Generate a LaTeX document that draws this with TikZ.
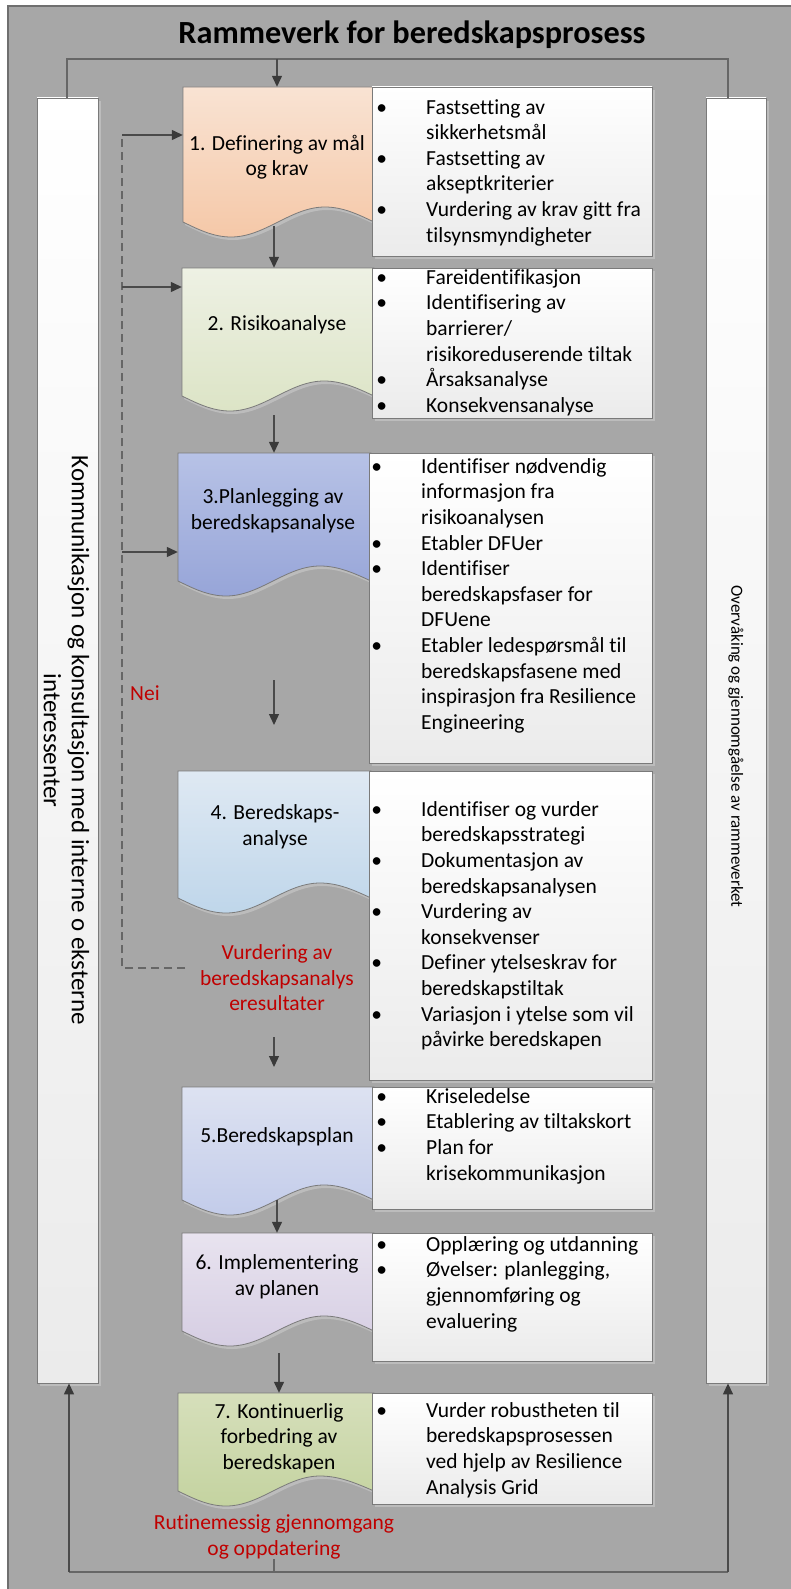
\documentclass[tikz,border=0pt]{standalone}
\usepackage{fontspec}
\setmainfont{Carlito}[Ligatures={NoCommon}]
\usetikzlibrary{arrows.meta,fit,shadows}
\definecolor{bg}{HTML}{A7A7A7}
\definecolor{framec}{HTML}{6F6F6F}
\definecolor{bordc}{HTML}{7A7A7A}
\definecolor{shadowc}{HTML}{BCBCBC}
\definecolor{linec}{HTML}{666666}
\definecolor{arrc}{HTML}{4A4A4A}
\definecolor{tipc}{HTML}{3A3A3A}
\definecolor{redc}{HTML}{C00000}
\definecolor{wbot}{HTML}{EBEBEB}
\definecolor{cat}{HTML}{F9E3D3}\definecolor{cab}{HTML}{F5C8A8}
\definecolor{cbt}{HTML}{EEF1E4}\definecolor{cbb}{HTML}{DCE4C6}
\definecolor{cct}{HTML}{B7C2E6}\definecolor{ccb}{HTML}{97A5D8}
\definecolor{cdt}{HTML}{DFE9F3}\definecolor{cdb}{HTML}{BFD6EA}
\definecolor{cet}{HTML}{DDE2F1}\definecolor{ceb}{HTML}{C3CCEA}
\definecolor{cft}{HTML}{E8E3EF}\definecolor{cfb}{HTML}{D6CEE3}
\definecolor{cgt}{HTML}{D6DFBB}\definecolor{cgb}{HTML}{C4D3A0}
\newcommand\bl{\makebox[0pt][r]{\textbullet\hspace{39pt}}}
% #1 L, #2 top, #3 wave centre, #4 right, #5 name, #6 top colour, #7 bottom colour
\newcommand\docshape[7]{%
  \fill[shadowc, shift={(2,3)}] (#1,#2) -- (#1,#3) sin ({#1+48},{#3+15}) cos ({#1+95},#3)
     sin ({#1+142},{#3-15}) cos (#4,#3) -- (#4,#2) -- cycle;
  \path[draw=bordc, line width=0.8pt, top color=#6, bottom color=#7] (#1,#2) -- (#1,#3)
     sin ({#1+48},{#3+15}) cos ({#1+95},#3) sin ({#1+142},{#3-15}) cos (#4,#3) -- (#4,#2) -- cycle;
  \node[fit={(#1,#2) (#4,#3)}, inner sep=0pt] (#5) {};
}
\begin{document}
\begin{tikzpicture}[x=1pt,y=-1pt,
  wbox/.style={draw=bordc, line width=0.8pt, top color=white, bottom color=wbot, inner sep=0pt,
     drop shadow={shadow xshift=3pt, shadow yshift=-3pt, fill=shadowc, opacity=1}},
  ctext/.style={font=\fontsize{21.5}{25.5}\selectfont, align=center, inner sep=0pt},
  rtext/.style={font=\fontsize{21.5}{25.5}\selectfont, align=center, inner sep=0pt, text=redc},
  ltext/.style={font=\fontsize{21.5}{25.6}\selectfont, align=left, inner sep=0pt, anchor=north west},
  fline/.style={draw=linec, line width=1.5pt},
  arr/.style={draw=arrc, line width=1.3pt, -{Triangle[length=11pt,width=10pt,color=tipc]}},
  dline/.style={draw=linec, line width=1.3pt, dash pattern=on 8pt off 5pt}]
\useasboundingbox (0,0) rectangle (791,1589);
% frame
\fill[white] (0,0) rectangle (791,1589);
\fill[bg] (8,6) rectangle (791,1589);
\draw[framec, line width=1.2pt] (8,1589) -- (8,6) -- (791,6);
\node[font=\fontsize{32.3}{38}\selectfont\bfseries, anchor=base, inner sep=0pt] (title) at (412,44) {Rammeverk for beredskapsprosess};
% side boxes
\node[wbox, fit={(37,98) (98,1383)}] (L) {};
\node[wbox, fit={(706,98) (766,1383)}] (R) {};
\node[font=\fontsize{25}{28}\selectfont, align=center, inner sep=0pt, rotate=-90] (lt) at ([xshift=-1pt]L.center) {Kommunikasjon og konsultasjon med interne o eksterne\\interessenter};
\node[font=\fontsize{17}{20}\selectfont, align=center, inner sep=0pt, rotate=-90] (rt) at ([yshift=-6pt]R.center) {Overvåking og gjennomgåelse av rammeverket};
% colored document shapes
\docshape{183}{87}{222}{374}{c1}{cat}{cab}
\docshape{182}{268}{396}{374}{c2}{cbt}{cbb}
\docshape{178}{453}{581}{371}{c3}{cct}{ccb}
\docshape{178}{771}{898}{371}{c4}{cdt}{cdb}
\docshape{182}{1087}{1200}{374}{c5}{cet}{ceb}
\docshape{182}{1233}{1331}{374}{c6}{cft}{cfb}
\docshape{178}{1393}{1491}{374}{c7}{cgt}{cgb}
% white boxes
\node[wbox, fit={(372,87) (652,256)}] (w1) {};
\node[wbox, fit={(372,268) (652,418)}] (w2) {};
\node[wbox, fit={(369,453) (652,763)}] (w3) {};
\node[wbox, fit={(369,771) (652,1080)}] (w4) {};
\node[wbox, fit={(372,1087) (652,1209)}] (w5) {};
\node[wbox, fit={(372,1233) (652,1361)}] (w6) {};
\node[wbox, fit={(372,1393) (652,1504)}] (w7) {};
% box titles
\node[ctext] (t1) at (277,157) {1. Definering av mål\\og krav};
\node[ctext] (t2) at (277,325) {2. Risikoanalyse};
\node[ctext] (t3) at (273,511) {3.Planlegging av\\beredskapsanalyse};
\node[ctext] (t4) at (275,827) {4. Beredskaps-\\analyse};
\node[ctext] (t5) at (277,1137) {5.Beredskapsplan};
\node[ctext] (t6) at (277,1277) {6. Implementering\\av planen};
\node[ctext] (t7) at (279,1438) {7. Kontinuerlig\\forbedring av\\beredskapen};
% lists
\node[ltext] (l1) at (426,97) {\rule{0pt}{17pt}\bl Fastsetting av\\sikkerhetsmål\\\bl Fastsetting av\\akseptkriterier\\\bl Vurdering av krav gitt fra\\tilsynsmyndigheter};
\node[ltext] (l2) at (426,267) {\rule{0pt}{17pt}\bl Fareidentifikasjon\\\bl Identifisering av\\barrierer/\\risikoreduserende tiltak\\\bl Årsaksanalyse\\\bl Konsekvensanalyse};
\node[ltext] (l3) at (421,456) {\rule{0pt}{17pt}\bl Identifiser nødvendig\\informasjon fra\\risikoanalysen\\\bl Etabler DFUer\\\bl Identifiser\\beredskapsfaser for\\DFUene\\\bl Etabler ledespørsmål til\\beredskapsfasene med\\inspirasjon fra Resilience\\Engineering};
\node[ltext] (l4) at (421,799) {\rule{0pt}{17pt}\bl Identifiser og vurder\\beredskapsstrategi\\\bl Dokumentasjon av\\beredskapsanalysen\\\bl Vurdering av\\konsekvenser\\\bl Definer ytelseskrav for\\beredskapstiltak\\\bl Variasjon i ytelse som vil\\påvirke beredskapen};
\node[ltext] (l5) at (426,1086) {\rule{0pt}{17pt}\bl Kriseledelse\\\bl Etablering av tiltakskort\\\bl Plan for\\krisekommunikasjon};
\node[ltext] (l6) at (426,1234) {\rule{0pt}{17pt}\bl Opplæring og utdanning\\\bl Øvelser: planlegging,\\gjennomføring og\\evaluering};
\node[ltext] (l7) at (426,1400) {\rule{0pt}{17pt}\bl Vurder robustheten til\\beredskapsprosessen\\ved hjelp av Resilience\\Analysis Grid};
% red labels
\node[rtext] (nei) at (145,693) {Nei};
\node[rtext] (r1) at (277,978) {Vurdering av\\beredskapsanalys\\eresultater};
\node[rtext] (r2) at (274,1537) {Rutinemessig gjennomgang\\og oppdatering};
% top feedback
\coordinate (tl) at (67,59);
\coordinate (tr) at (728,59);
\coordinate (ta) at (277,59);
\draw[fline] (L.north -| tl) -- (tl) -- (tr) -- (R.north -| tr);
\draw[arr] (ta) -- (ta |- c1.north);
% flow arrows
\coordinate (s12) at (274,226);
\coordinate (s23) at (274,415);
\coordinate (s34a) at (274,680);
\coordinate (s34b) at (274,725);
\coordinate (s45a) at (274,1037);
\coordinate (s45b) at (274,1067);
\coordinate (s56) at (277,1200);
\coordinate (s67) at (279,1353);
\draw[arr] (s12) -- (s12 |- c2.north);
\draw[arr] (s23) -- (s23 |- c3.north);
\draw[arr] (s34a) -- (s34b);
\draw[arr] (s45a) -- (s45b);
\draw[arr] (s56) -- (s56 |- c6.north);
\draw[arr] (s67) -- (s67 |- c7.north);
% dashed "Nei" loop
\coordinate (d1) at (122,135);
\coordinate (d2) at (122,287);
\coordinate (d3) at (122,552);
\coordinate (d4) at (122,968);
\coordinate (d5) at (185,968);
\draw[dline] (d5) -- (d4) -- (d1);
\draw[arr] (d1) -- (d1 -| c1.west);
\draw[arr] (d2) -- (d2 -| c2.west);
\draw[arr] (d3) -- (d3 -| c3.west);
% bottom feedback
\coordinate (bl) at (69,1572);
\coordinate (br) at (728,1572);
\draw[fline] (r2.south) -- (r2.south |- bl);
\draw[fline] (bl) -- (br);
\draw[arr] (bl) -- (bl |- L.south);
\draw[arr] (br) -- (br |- R.south);
\end{tikzpicture}
\end{document}
